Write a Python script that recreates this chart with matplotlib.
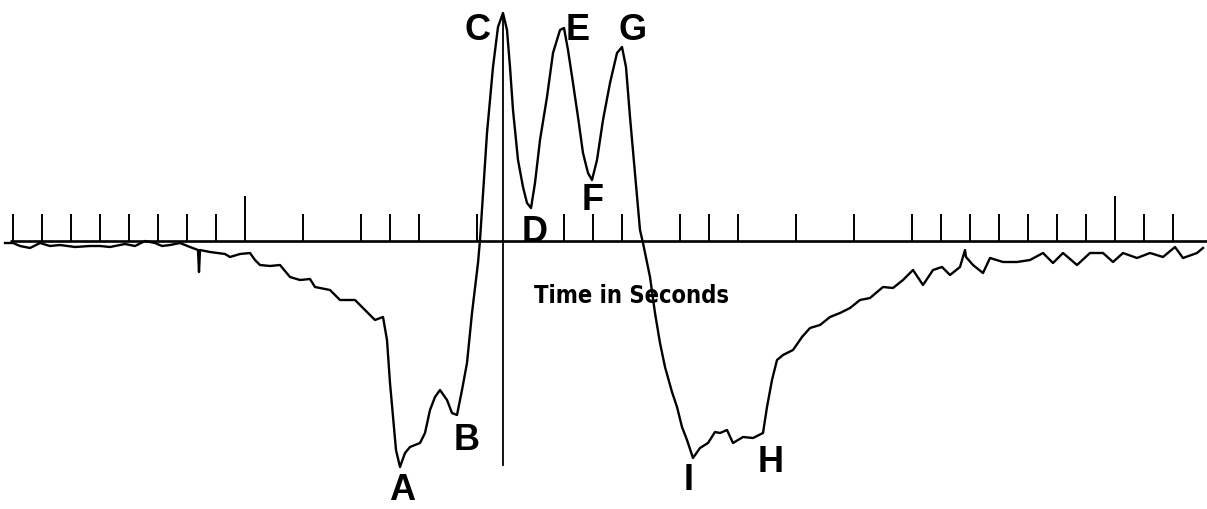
import matplotlib
matplotlib.use("Agg")
import matplotlib.pyplot as plt

# Trace: sample index (ticks every 29 samples) and amplitude (arbitrary units)
samples = [-8, 0, 7, 17, 27, 37, 47, 62, 77, 87, 97, 112, 122, 132, 142, 149, 157, 167, 177,
           185, 186, 187, 197, 212, 217, 227, 237, 242, 247, 257, 267, 277, 287, 297, 302, 317,
           327, 342, 352, 362, 370, 374, 377, 380, 383, 387, 392, 397, 407, 412, 417, 422, 427,
           434, 439, 444, 449, 454, 459, 465, 467, 474, 480, 485, 490, 494, 497, 500, 505, 510,
           514, 518, 522, 527, 534, 540, 547, 551, 555, 560, 565, 570, 575, 579, 584, 590, 597,
           604, 609, 613, 617, 622, 627, 630, 637, 642, 647, 652, 659, 664, 669, 674, 680, 687,
           695, 702, 707, 714, 720, 730, 740, 750, 754, 759, 764, 770, 780, 789, 797, 807, 817,
           827, 837, 847, 857, 870, 880, 890, 900, 910, 920, 929, 937, 947, 952, 953, 960, 970,
           977, 990, 1004, 1017, 1030, 1040, 1050, 1064, 1077, 1090, 1100, 1110, 1124, 1137,
           1150, 1162, 1170, 1184, 1190]
amplitude = [-2, -2, -5, -7, -2, -5, -4, -6, -5, -5, -6, -3, -5, 0, -2, -5, -4, -2, -6,
             -9, -31, -9, -11, -13, -16, -13, -12, -19, -24, -25, -24, -36, -39, -38, -46, -49,
             -59, -59, -69, -79, -76, -99, -142, -176, -209, -226, -212, -206, -202, -192, -169, -156, -149,
             -159, -172, -174, -149, -122, -72, -22, 1, 108, 174, 214, 228, 211, 174, 131, 81, 54,
             38, 33, 58, 101, 144, 188, 211, 213, 191, 158, 124, 88, 68, 61, 81, 121, 158,
             188, 194, 174, 124, 68, 11, -2, -36, -72, -102, -126, -151, -166, -186, -199, -217, -207,
             -202, -191, -192, -189, -202, -196, -197, -192, -166, -139, -119, -114, -109, -96, -87, -84, -76,
             -72, -67, -59, -57, -46, -47, -39, -29, -44, -29, -26, -34, -26, -9, -16, -24, -32,
             -17, -21, -21, -19, -12, -22, -12, -24, -12, -12, -21, -12, -17, -12,
             -16, -6, -17, -12, -7]

tick_index = [0, 1, 2, 3, 4, 5, 6, 7, 8, 10, 12, 13, 14, 16, 19, 20, 21, 23, 24, 25, 27,
              29, 31, 32, 33, 34, 35, 36, 37, 38, 39, 40]
tall_ticks = [8, 38]
tick_spacing = 29

marker_sample = 490  # vertical line at peak C

labels = ["C", "E", "G", "D", "F", "B", "A", "I", "H"]
label_samples = [464, 565, 620, 522, 580, 454, 389, 676, 758]
label_amps = [210, 211, 210, 8, 41, -199, -250, -240, -221]

axis_caption = "Time in Seconds"

fig = plt.figure(figsize=(12.07, 5.09), dpi=100)
ax = fig.add_axes([0, 0, 1, 1])
ax.set_xlim(-13, 1194)
ax.set_ylim(-268, 241)
ax.axis("off")

# baseline axis
ax.plot([-3, 1194], [0, 0], color="black", lw=1.9, solid_capstyle="butt")
# ticks
for k in tick_index:
    h = 45 if k in tall_ticks else 27
    ax.plot([k * tick_spacing, k * tick_spacing], [0, h], color="black", lw=1.4,
            solid_capstyle="butt")
# vertical marker line
ax.plot([marker_sample, marker_sample], [-224, 226], color="black", lw=1.3)

# trace
ax.plot(samples, amplitude, color="black", lw=1.7, solid_joinstyle="round")

for lab, xs, ys in zip(labels, label_samples, label_amps):
    ax.text(xs, ys, lab, fontsize=26, fontweight="bold", family=["Liberation Sans", "DejaVu Sans"],
            ha="center", va="center", color="black")

ax.text(521, -62, axis_caption, fontsize=17, fontweight="bold", fontstretch="condensed",
        family=["DejaVu Sans"], ha="left", va="baseline", color="black")

fig.savefig("out.png", dpi=100)
